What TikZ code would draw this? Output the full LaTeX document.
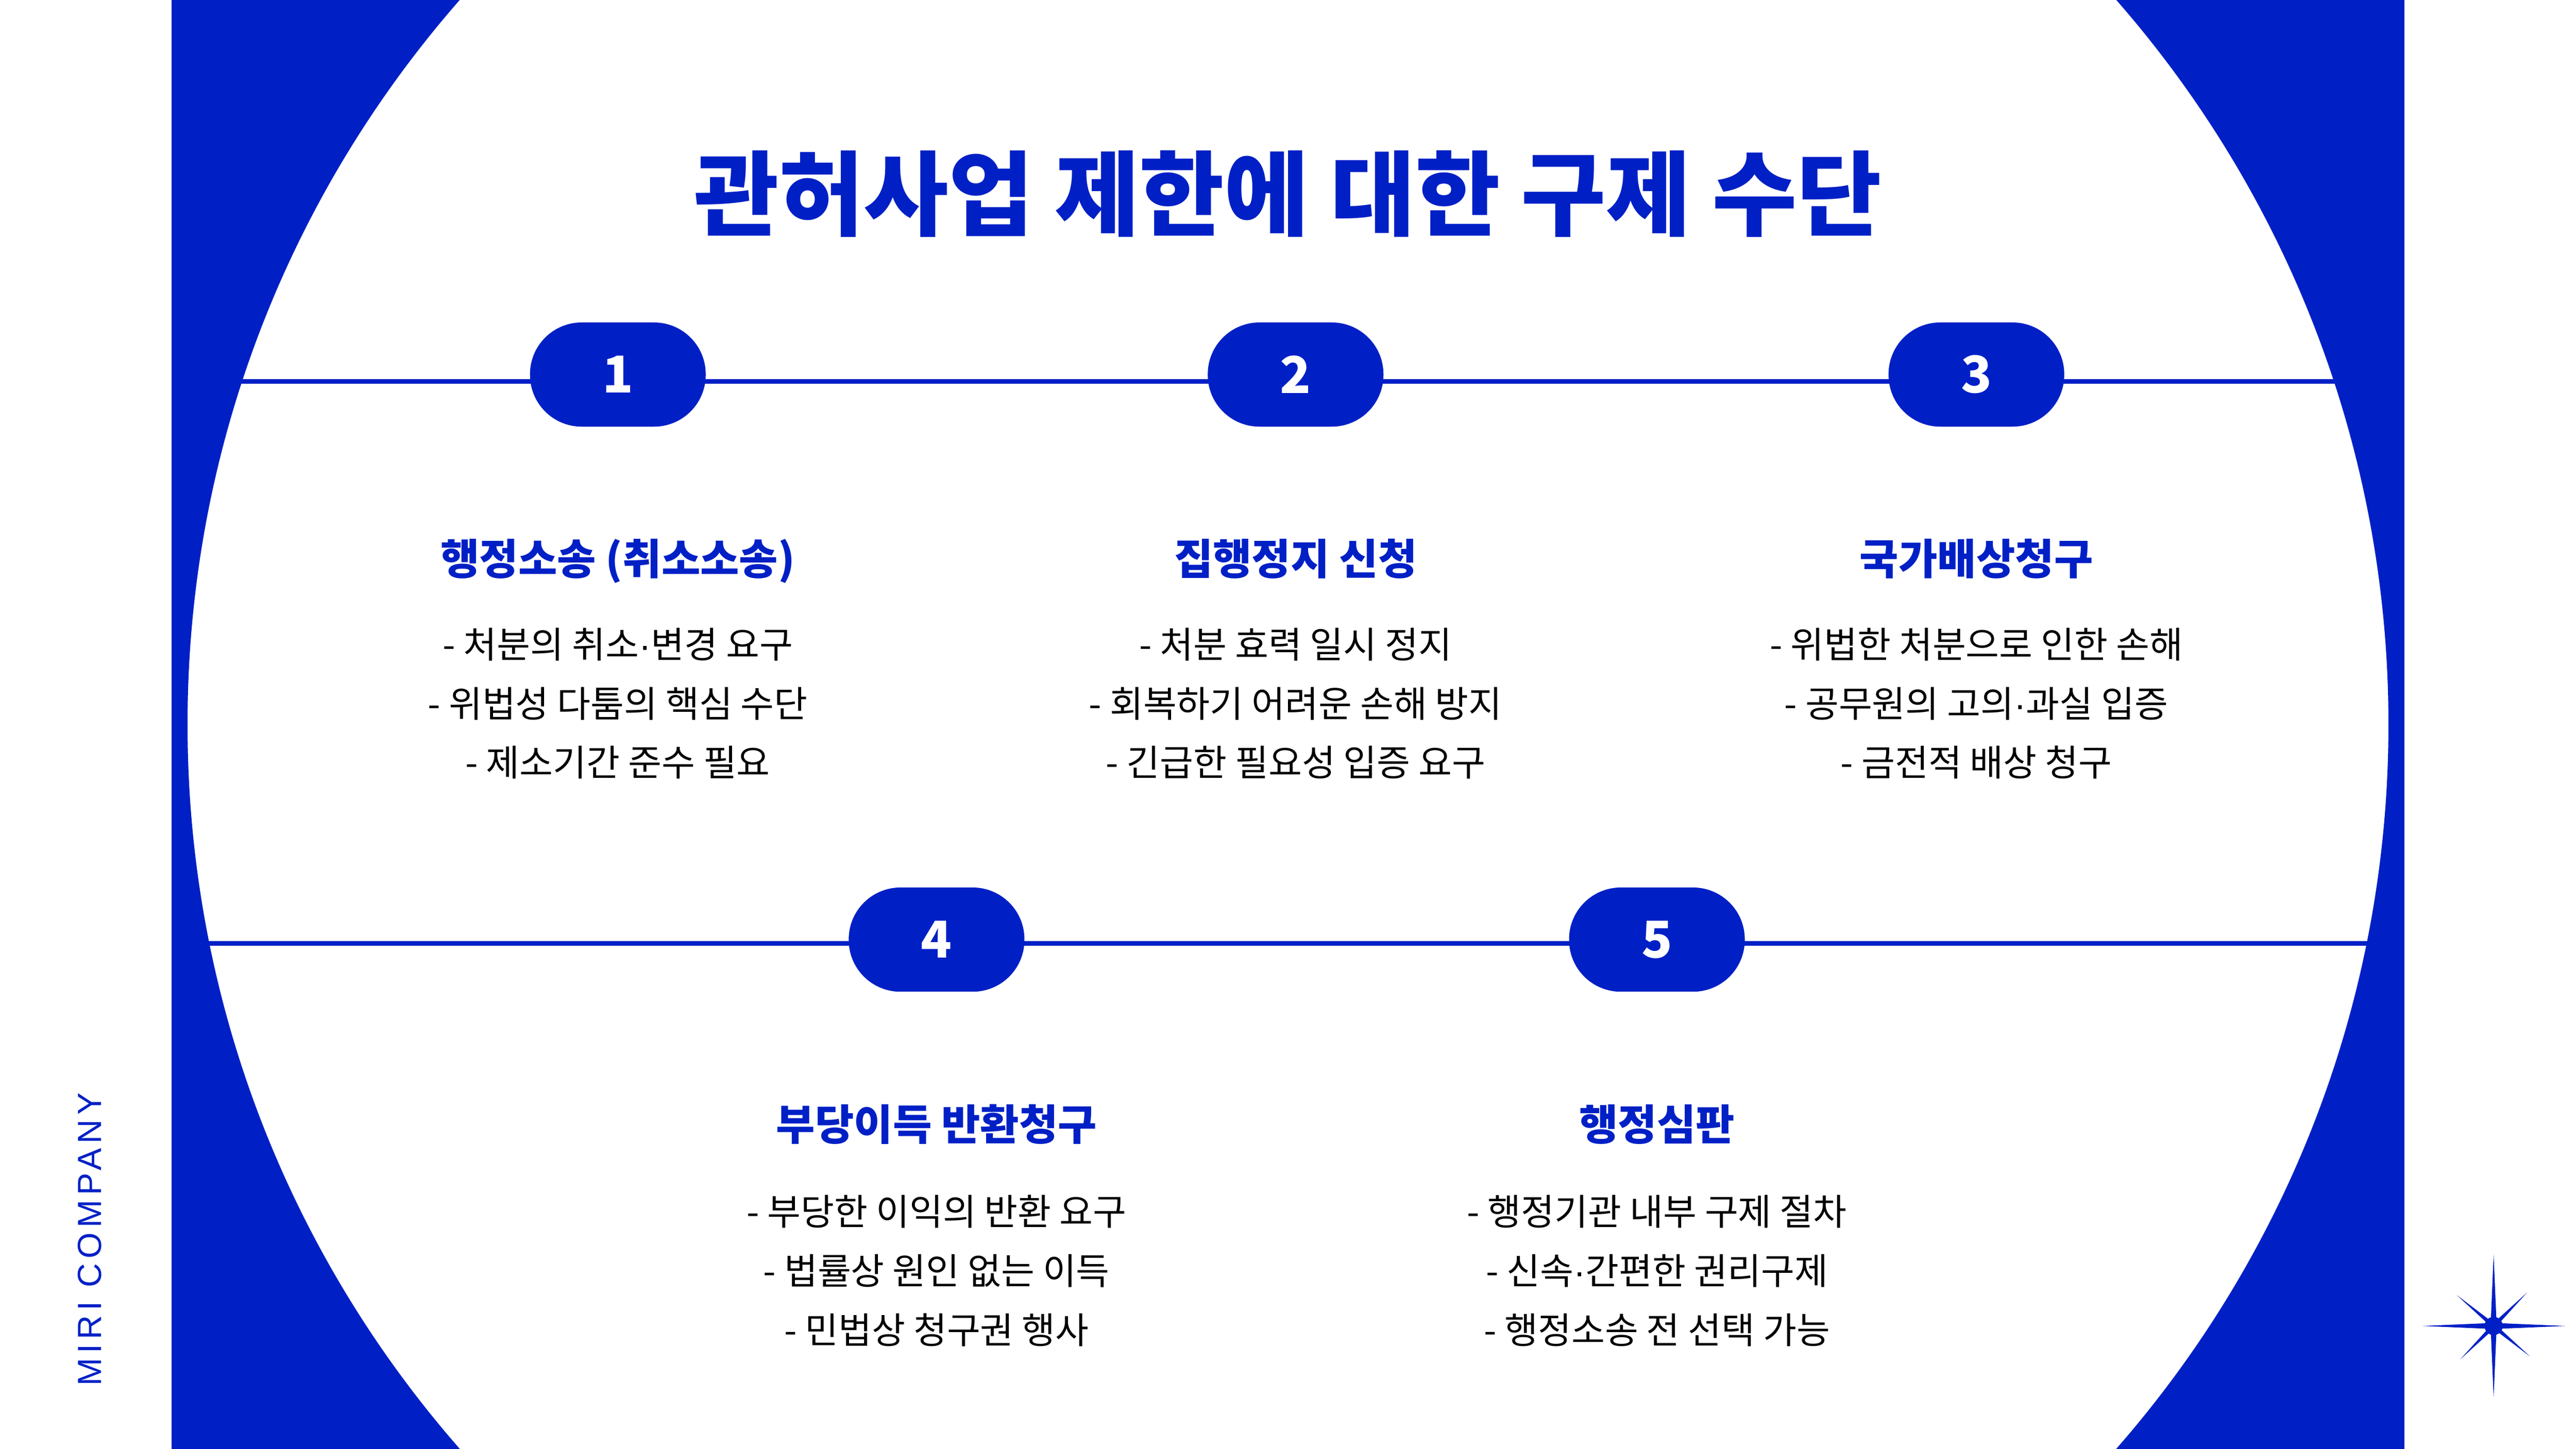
\documentclass[tikz,border=0pt]{standalone}
\usepackage{fontspec}
\setmainfont{Noto Sans CJK KR}
\newfontfamily\brandfont[LetterSpace=14]{Liberation Sans}
\newfontfamily\dotfont{Liberation Sans}
\newcommand\mdot{{\dotfont ·}}
\definecolor{miriblue}{HTML}{0020C6}
\tikzset{
	badge/.style={rectangle,rounded corners=6.8mm,fill=miriblue,text=white,minimum width=2.31cm,minimum height=1.37cm,inner sep=0pt,font=\fontsize{19}{21}\selectfont\bfseries},
	head/.style={anchor=base,text=miriblue,font=\fontsize{15.8}{18}\selectfont\bfseries},
	body/.style={anchor=base,align=center,inner sep=0pt,font=\fontsize{13.6}{22.1}\selectfont},
	rule/.style={draw=miriblue,line width=1.8pt},
}
\begin{document}
\begin{tikzpicture}
		
		\useasboundingbox (-16.933,-9.525) rectangle (16.933,9.525);
		\fill[white] (-16.933,-9.525) rectangle (16.933,9.525);
		\fill[miriblue] (-14.68,-9.525) rectangle (14.68,9.525);
		\draw[fill=white,draw=miriblue,line width=3pt] (0,0) circle (14.52);
		
		\coordinate(r1w) at (-13.81,4.51);
		\coordinate(r1e) at (13.81,4.51);
		\coordinate(r2w) at (-14.22,-2.88);
		\coordinate(r2e) at (14.22,-2.88);
			\draw[rule] (r1w) -- (r1e);
			\draw[rule] (r2w) -- (r2e);
		
		\node(title) at (0,6.52)[anchor=base,text=miriblue,font=\fontsize{34.5}{38}\selectfont\bfseries]{관허사업 제한에 대한 구제 수단};
		
		\node(b1) at (-8.81,4.60)[badge]{1};
		\node(b2) at (0.10,4.60)[badge]{2};
		\node(b3) at (9.05,4.60)[badge]{3};
		\node(b4) at (-4.62,-2.83)[badge]{4};
		\node(b5) at (4.85,-2.83)[badge]{5};
		
		\node(h1) at (-8.81,1.97)[head]{행정소송 (취소소송)};
		\node(h2) at (0.10,1.97)[head]{집행정지 신청};
		\node(h3) at (9.05,1.97)[head]{국가배상청구};
		\node(h4) at (-4.62,-5.47)[head]{부당이득 반환청구};
		\node(h5) at (4.85,-5.47)[head]{행정심판};
		
		\node(t1) at (-8.81,-0.68)[body]{- 처분의 취소\mdot 변경 요구\\- 위법성 다툼의 핵심 수단\\- 제소기간 준수 필요};
		\node(t2) at (0.10,-0.68)[body]{- 처분 효력 일시 정지\\- 회복하기 어려운 손해 방지\\- 긴급한 필요성 입증 요구};
		\node(t3) at (9.05,-0.68)[body]{- 위법한 처분으로 인한 손해\\- 공무원의 고의\mdot 과실 입증\\- 금전적 배상 청구};
		\node(t4) at (-4.62,-8.14)[body]{- 부당한 이익의 반환 요구\\- 법률상 원인 없는 이득\\- 민법상 청구권 행사};
		\node(t5) at (4.85,-8.14)[body]{- 행정기관 내부 구제 절차\\- 신속\mdot 간편한 권리구제\\- 행정소송 전 선택 가능};
		
		\node(brand) at (-15.75,-6.77)[rotate=90,text=miriblue,font=\brandfont\fontsize{12.5}{14}\selectfont]{MIRI COMPANY};
		
		\coordinate(star) at (15.85,-7.91);
		\foreach \a/\l/\w in {90/0.94/0.04,270/0.94/0.04,0/0.95/0.04,180/0.94/0.04,140/0.63/0.03,45/0.62/0.03,-40/0.62/0.03,225/0.62/0.03}
			\fill[miriblue,shift={(star)}] (\a+90:\w) -- (\a:\l) -- (\a-90:\w) -- cycle;
		\fill[miriblue] (star) circle (0.12);
		
	\end{tikzpicture}
\end{document}
